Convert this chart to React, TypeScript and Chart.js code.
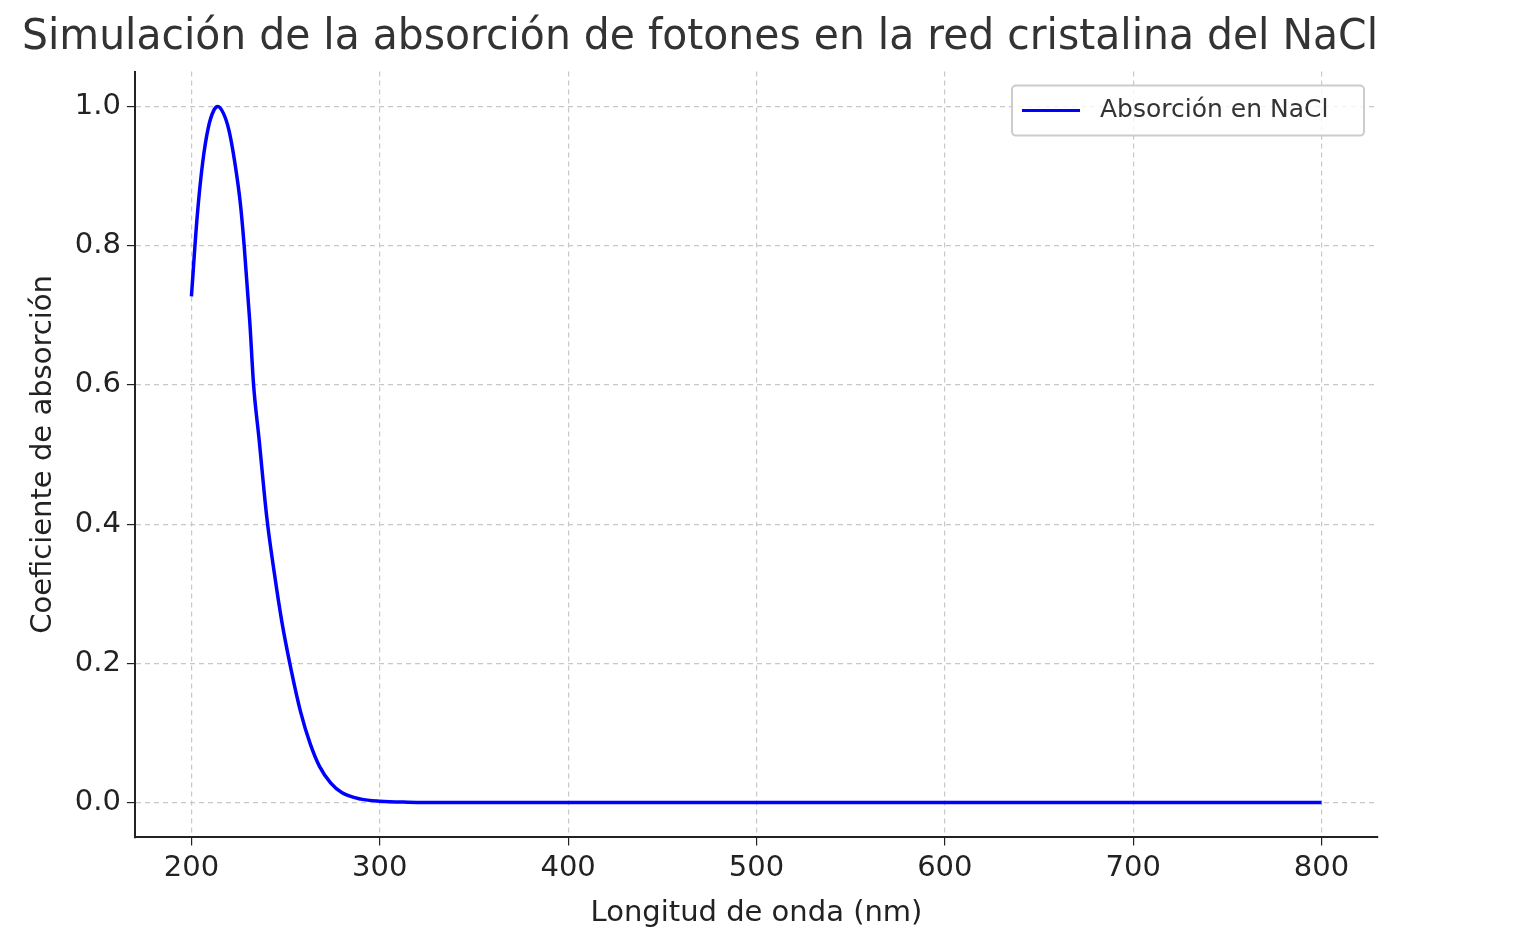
import { useEffect, useRef } from 'react'
import { Chart, registerables } from 'chart.js'

Chart.register(...registerables)

const wavelengths = [200, 203, 206, 209, 212, 214, 217, 220, 223, 226, 228, 231, 233, 236, 240, 244, 248, 253, 258, 263, 268, 274, 280, 290, 300, 315, 330, 350, 400, 500, 600, 700, 800]
const absorption = [0.727, 0.84, 0.92, 0.97, 0.995, 1.0, 0.99, 0.965, 0.92, 0.86, 0.8, 0.69, 0.6, 0.52, 0.41, 0.33, 0.26, 0.19, 0.13, 0.085, 0.052, 0.028, 0.014, 0.005, 0.002, 0.0006, 0.0002, 0, 0, 0, 0, 0, 0]
const xTicks = [200, 300, 400, 500, 600, 700, 800]
const yTicks = [0, 0.2, 0.4, 0.6, 0.8, 1.0]

const legendBox = {
  id: 'legendBox',
  afterDraw(chart: any) {
    const { ctx, chartArea } = chart
    const w = 352, h = 50
    const x = chartArea.right - w - 14, y = chartArea.top + 14
    ctx.save()
    ctx.fillStyle = 'rgba(255,255,255,0.8)'
    ctx.strokeStyle = '#cccccc'
    ctx.lineWidth = 2
    ctx.beginPath()
    ctx.roundRect(x, y, w, h, 4)
    ctx.fill()
    ctx.stroke()
    ctx.strokeStyle = '#0000ff'
    ctx.lineWidth = 3
    ctx.beginPath()
    ctx.moveTo(x + 10, y + 25)
    ctx.lineTo(x + 68, y + 25)
    ctx.stroke()
    ctx.fillStyle = '#333333'
    ctx.font = '25px "DejaVu Sans"'
    ctx.textBaseline = 'middle'
    ctx.fillText('Absorción en NaCl', x + 88, y + 25)
    ctx.restore()
  },
}

export default function App () {
  const chartRef = useRef<HTMLCanvasElement>(null)
  const chartInstance = useRef<Chart | null>(null)

  useEffect(() => {
    document.body.style.margin = '0'
    if (chartInstance.current) chartInstance.current.destroy()
    if (!chartRef.current) return
    const font = { family: '"DejaVu Sans"', size: 29 }
    chartInstance.current = new Chart(chartRef.current.getContext('2d')!, {
      type: 'line',
      data: {
        datasets: [{
          label: 'Absorción en NaCl',
          data: wavelengths.map((x, i) => ({ x, y: absorption[i] })),
          borderColor: '#0000ff',
          borderWidth: 3.5,
          pointRadius: 0,
          cubicInterpolationMode: 'monotone',
          fill: false,
        }],
      },
      options: {
        animation: false,
        responsive: false,
        layout: { padding: { left: 22, right: 136, top: 0, bottom: 12 } },
        plugins: {
          legend: { display: false },
          tooltip: { enabled: false },
          title: {
            display: true,
            text: 'Simulación de la absorción de fotones en la red cristalina del NaCl',
            color: '#333333',
            font: { family: '"DejaVu Sans"', size: 43, weight: 'normal' },
            padding: { top: 12, bottom: 8 },
          },
        },
        scales: {
          x: {
            type: 'linear',
            min: 170,
            max: 830,
            afterBuildTicks: (s: any) => { s.ticks = xTicks.map(v => ({ value: v })) },
            ticks: { font, color: '#222', padding: 6 },
            grid: { color: '#c8c8c8', lineWidth: 1.2, tickLength: 8, tickColor: '#222' },
            border: { display: true, color: '#222', width: 2, dash: [5, 4] },
            title: { display: true, text: 'Longitud de onda (nm)', font, color: '#222', padding: { top: 4 } },
          },
          y: {
            min: -0.05,
            max: 1.05,
            afterBuildTicks: (s: any) => { s.ticks = yTicks.map(v => ({ value: v })) },
            ticks: { font, color: '#222', padding: 6, callback: (v: any) => Number(v).toFixed(1) },
            grid: { color: '#c8c8c8', lineWidth: 1.2, tickLength: 8, tickColor: '#222' },
            border: { display: true, color: '#222', width: 2, dash: [5, 4] },
            title: { display: true, text: 'Coeficiente de absorción', font, color: '#222', padding: { bottom: 8 } },
          },
        },
      },
      plugins: [legendBox],
    } as any)
    return () => { chartInstance.current?.destroy() }
  }, [])

  return <canvas ref={chartRef} width={1514} height={947} style={{ display: 'block' }} />
}
